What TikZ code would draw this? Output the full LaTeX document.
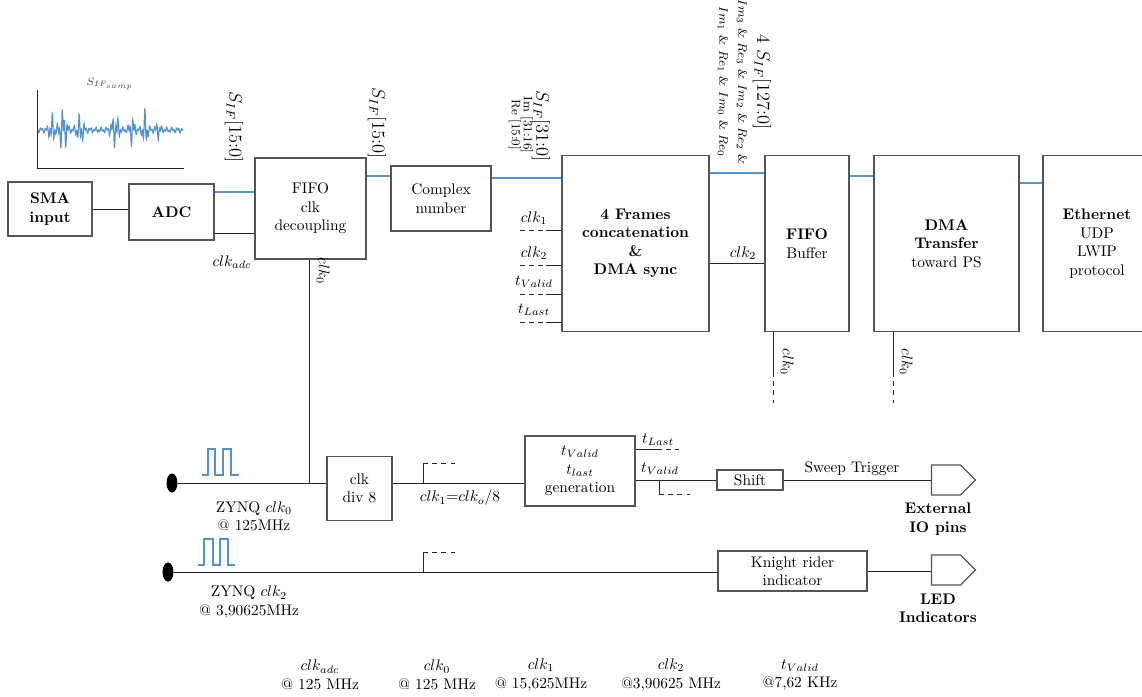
\documentclass[tikz,border=0pt]{standalone}
\usepackage{amsmath,amssymb}
\usepackage{xcolor}
\usetikzlibrary{positioning, calc, shapes.geometric, shapes.symbols}

\definecolor{busblue}{RGB}{84,146,204}
\definecolor{boxgray}{RGB}{85,85,85}
\newlength{\px}
\setlength{\px}{0.65pt}

\begin{document}
\begin{tikzpicture}[x=0.65pt, y=-0.65pt,
    box/.style={draw=boxgray, line width=0.9pt, align=center, inner sep=1pt},
    bus/.style={busblue, line width=1.3pt},
    wire/.style={black!85, line width=0.6pt},
    stub/.style={wire, dashed},
    pulse/.style={busblue, line width=0.7pt},
    pin/.style={draw=boxgray, line width=0.9pt, signal, signal to=east, minimum width=44\px, minimum height=30\px, inner sep=0pt},
    dot/.style={ellipse, fill=black, minimum width=11\px, minimum height=19\px, inner sep=0pt},
    lbl/.style={inner sep=1pt},
    tag/.style={rotate=-90, inner sep=0pt}]

    \useasboundingbox (0,0) rectangle (1142,697);

    % ---------------------------------------------------
    % Sampled signal sketch
    % ---------------------------------------------------
    \draw[wire] (37,90) -- (37,168) -- (184,168);
    \draw[busblue, line width=0.7pt] plot[domain=38:183, samples=400]
        (\x, {130 + (3 + 15*exp(-((\x-52)/3)^2) + 24*exp(-((\x-63)/4)^2) + 14*exp(-((\x-80)/4)^2)
              + 17*exp(-((\x-115)/4)^2) + 15*exp(-((\x-132)/3)^2) + 19*exp(-((\x-145)/3)^2)
              + 7*exp(-((\x-158)/3)^2))*sin((\x-38)*107)*sin((\x-38)*41+30)});
    \node[font=\scriptsize, text=black!70] (samp) at (110,84) {$S_{IF_{samp}}$};

    % ---------------------------------------------------
    % Data path
    % ---------------------------------------------------
    \node[box, minimum width=84\px, minimum height=54\px] (sma) at (50,209) {\textbf{SMA}\\\textbf{input}};
    \node[box, minimum width=85\px, minimum height=56\px] (adc) at (171.5,212) {\textbf{ADC}};
    \node[box, minimum width=111\px, minimum height=101\px] (fifo) at (310.5,208.5) {FIFO\\clk\\decoupling};
    \node[box, minimum width=100\px, minimum height=65\px] (cplx) at (441,198.5) {Complex\\number};
    \node[box, minimum width=147\px, minimum height=176\px, font=\bfseries] (frames) at (635.5,243.5) {4 Frames\\concatenation\\\&\\DMA sync};
    \node[box, minimum width=84\px, minimum height=176\px] (buf) at (807,243.5) {\textbf{FIFO}\\Buffer};
    \node[box, minimum width=145\px, minimum height=176\px] (dma) at (946.5,243.5) {\textbf{DMA}\\\textbf{Transfer}\\toward PS};
    \node[box, minimum width=108\px, minimum height=176\px] (eth) at (1097,243.5) {\textbf{Ethernet}\\UDP\\LWIP\\protocol};

    \draw[wire] (sma.east) -- (sma.east -| adc.west);
    \draw[bus] (adc.east |- 0,192) -- (fifo.west |- 0,192);
    \draw[wire] (adc.east |- 0,233) -- (fifo.west |- 0,233);
    \draw[bus] (fifo.east |- 0,176) -- (cplx.west |- 0,176);
    \draw[bus] (cplx.east |- 0,178) -- (frames.west |- 0,178);
    \draw[bus] (frames.east |- 0,173) -- (buf.west |- 0,173);
    \draw[wire] (frames.east |- 0,263) -- (buf.west |- 0,263);
    \draw[bus] (buf.east |- 0,176) -- (dma.west |- 0,176);
    \draw[bus] (dma.east |- 0,183) -- (eth.west |- 0,183);

    \node[lbl] (clkadc) at (232,262) {$clk_{adc}$};
    \node[lbl] (clkbuf) at (743,253) {$clk_2$};

    % bus widths
    \node[tag, font=\large] (sif0) at (234,127) {$S_{IF}$[15:0]};
    \node[tag, font=\large] (sif1) at (377,123) {$S_{IF}$[15:0]};
    \node[tag, font=\large] (sif2) at (541,126) {$S_{IF}$[31:0]};
    \node[tag, font=\footnotesize] (sifim) at (527,125) {Im [31:16]};
    \node[tag, font=\footnotesize] (sifre) at (515,125) {Re [15:0]};
    \node[tag, font=\large] (sif4) at (762,82) {4 $S_{IF}$[127:0]};
    \node[tag, font=\footnotesize] (sifa) at (742,82) {$Im_3$ \& $Re_3$ \& $Im_2$ \& $Re_2$ \&};
    \node[tag, font=\footnotesize] (sifb) at (723,82) {$Im_1$ \& $Re_1$ \& $Im_0$ \& $Re_0$};

    % sync inputs of the concatenation block
    \foreach \y/\s [count=\i] in {230/clk_1, 265/clk_2, 294/t_{Valid}, 322/t_{Last}} {
        \draw[stub] (520,\y) -- (546,\y);
        \draw[wire] (546,\y) -- (frames.west |- 0,\y);
        \node[lbl] (in\i) at (534,\y-12) {$\s$};
    }

    % clock taps below buffer and DMA
    \coordinate (bufclk) at (773,372);
    \coordinate (dmaclk) at (893,372);
    \draw[wire] (bufclk |- buf.south) -- (bufclk);
    \draw[stub] (bufclk) -- ++(0,31);
    \draw[wire] (dmaclk |- dma.south) -- (dmaclk);
    \draw[stub] (dmaclk) -- ++(0,31);
    \node[tag] (bufclklbl) at (787,362) {$clk_0$};
    \node[tag] (dmaclklbl) at (906,362) {$clk_0$};

    % ---------------------------------------------------
    % Clock 0 line
    % ---------------------------------------------------
    \node[dot] (zq0) at (172,483) {};
    \node[box, minimum width=65\px, minimum height=64\px] (div) at (359.5,488.5) {clk\\div 8};
    \node[box, minimum width=110\px, minimum height=70\px] (gen) at (580,471) {$t_{Valid}$\\$t_{last}$\\generation};
    \node[box, minimum width=66\px, minimum height=20\px, inner sep=0pt] (shift) at (750,480) {Shift};
    \node[pin] (io) at (946,480) {};

    \coordinate (j0) at (309,483);
    \draw[wire] (j0 |- fifo.south) -- (j0);
    \node[tag] (fifoclk) at (323,271) {$clk_0$};

    \draw[wire] (zq0) -- (zq0 -| div.west);
    \draw[wire] (zq0 -| div.east) -- (zq0 -| gen.west);
    \draw[wire] (423,483) -- (423,463);
    \draw[stub] (423,463) -- (455,463);
    \node[lbl] (clk1lbl) at (460,498) {$clk_1{=}clk_o/8$};

    \draw[wire] (gen.east |- 0,449) -- (657,449);
    \draw[stub] (657,449) -- (679,449);
    \node[lbl] (tlast) at (658,440) {$t_{Last}$};
    \draw[wire] (gen.east |- shift) -- (shift.west);
    \node[lbl] (tvalid) at (660,469) {$t_{Valid}$};
    \draw[wire] (659,480) -- (659,494);
    \draw[stub] (659,494) -- (690,494);

    \draw[wire] (shift.east) -- (io.west);
    \node[lbl] (sweep) at (852,469) {Sweep Trigger};
    \node[font=\bfseries, align=center] (iolbl) at (938,519) {External\\IO pins};

    \draw[pulse] (202,475) -- (208,475) -- (208,449) -- (215,449) -- (215,475) -- (223,475)
        -- (223,449) -- (231,449) -- (231,475) -- (239,475);
    \node[align=center] (zq0lbl) at (254,516) {ZYNQ $clk_0$\\@ 125MHz};

    % ---------------------------------------------------
    % Clock 2 line
    % ---------------------------------------------------
    \node[dot] (zq2) at (168,572) {};
    \node[box, minimum width=149\px, minimum height=40\px] (kr) at (792.5,571) {Knight rider\\indicator};
    \node[pin] (led) at (946,570) {};

    \draw[wire] (zq2) -- (zq2 -| kr.west);
    \draw[wire] (423,572) -- (423,552);
    \draw[stub] (423,552) -- (455,552);
    \draw[wire] (kr.east) -- (kr.east -| led.west);
    \node[font=\bfseries, align=center] (ledlbl) at (938,608) {LED\\Indicators};

    \draw[pulse] (198,565) -- (204,565) -- (204,539) -- (213,539) -- (213,565) -- (220,565)
        -- (220,539) -- (228,539) -- (228,565) -- (235,565);
    \node[align=center] (zq2lbl) at (249,602) {ZYNQ $clk_2$\\@ 3,90625MHz};

    % ---------------------------------------------------
    % Clock summary
    % ---------------------------------------------------
    \foreach \x/\c/\f [count=\i] in {320/clk_{adc}/{@ 125 MHz}, 437/clk_0/{@ 125 MHz},
            541/clk_1/{@ 15,625MHz}, 671/clk_2/{@3,90625 MHz}, 800/t_{Valid}/{@7,62 KHz}} {
        \node[align=center] (freq\i) at (\x,675) {$\c$\\\f};
    }

\end{tikzpicture}
\end{document}
